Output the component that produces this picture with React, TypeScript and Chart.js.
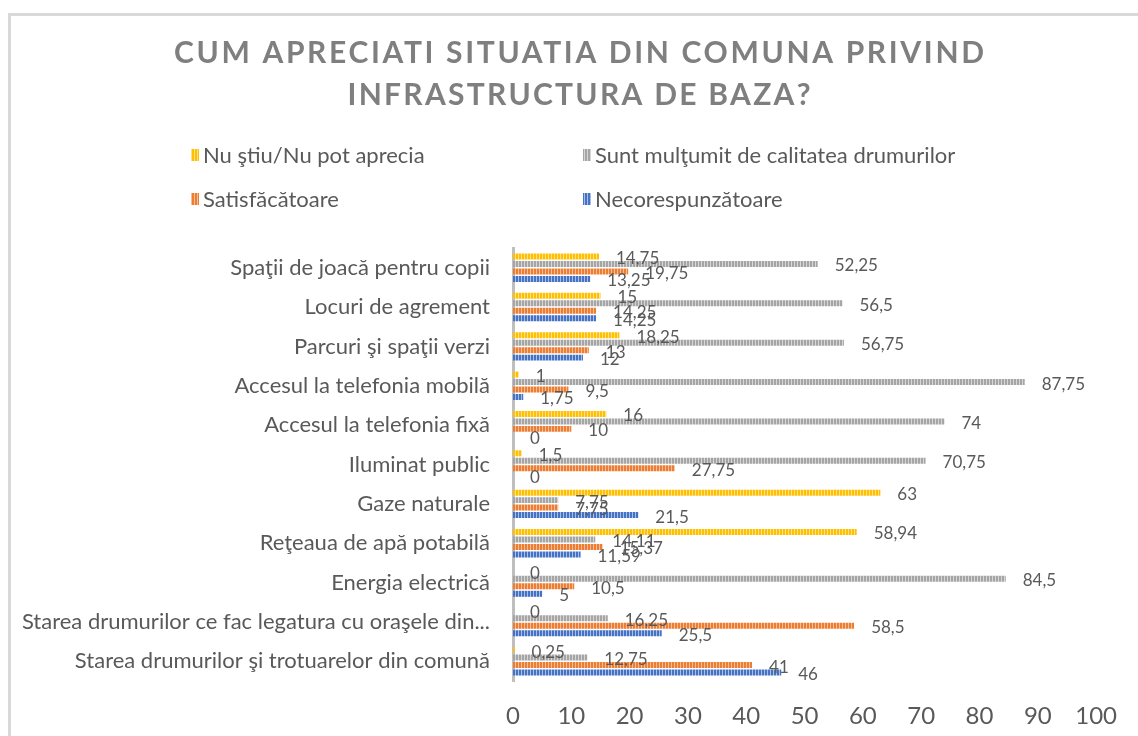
import React, { useEffect, useRef } from 'react';
import { Chart, registerables } from 'chart.js';
Chart.register(...registerables);

const titleLines = ['CUM APRECIATI SITUATIA DIN COMUNA PRIVIND', 'INFRASTRUCTURA DE BAZA?'];

const categories = [
  'Spaţii de joacă pentru copii',
  'Locuri de agrement',
  'Parcuri şi spaţii verzi',
  'Accesul la telefonia mobilă',
  'Accesul la telefonia fixă',
  'Iluminat public',
  'Gaze naturale',
  'Reţeaua de apă potabilă',
  'Energia electrică',
  'Starea drumurilor ce fac legatura cu oraşele din...',
  'Starea drumurilor şi trotuarelor din comună',
];

const seriesNames = [
  'Nu ştiu/Nu pot aprecia',
  'Sunt mulţumit de calitatea drumurilor',
  'Satisfăcătoare',
  'Necorespunzătoare',
];

const nuStiu = [14.75, 15, 18.25, 1, 16, 1.5, 63, 58.94, 0, 0, 0.25];
const multumit = [52.25, 56.5, 56.75, 87.75, 74, 70.75, 7.75, 14.11, 84.5, 16.25, 12.75];
const satisfacatoare = [19.75, 14.25, 13, 9.5, 10, 27.75, 7.75, 15.37, 10.5, 58.5, 41];
const necorespunzatoare = [13.25, 14.25, 12, 1.75, 0, 0, 21.5, 11.59, 5, 25.5, 46];

const xTicks = [0, 10, 20, 30, 40, 50, 60, 70, 80, 90, 100];

const colors = ['#FFC000', '#A5A5A5', '#ED7D31', '#4472C4'];
const lightColors = ['#FFE08A', '#D6D6D6', '#F6BE98', '#A9BFE6'];

const FONT = 'Lato, "Open Sans", sans-serif';

export default function App() {
  const ref = useRef<HTMLCanvasElement>(null);

  useEffect(() => {
    const canvas = ref.current!;
    const ctx = canvas.getContext('2d')!;

    const mkPattern = (color: string, light: string) => {
      const c = document.createElement('canvas');
      c.width = 3;
      c.height = 2;
      const g = c.getContext('2d')!;
      g.fillStyle = color;
      g.fillRect(0, 0, 3, 2);
      g.fillStyle = light;
      g.fillRect(2, 0, 1, 2);
      return ctx.createPattern(c, 'repeat') as CanvasPattern;
    };
    const patterns = colors.map((c, i) => mkPattern(c, lightColors[i]));
    const allData = [nuStiu, multumit, satisfacatoare, necorespunzatoare];

    const valueLabels = {
      id: 'valueLabels',
      afterDatasetsDraw(chart: any) {
        const c = chart.ctx;
        c.save();
        c.font = `17px ${FONT}`;
        c.fillStyle = '#595959';
        c.textBaseline = 'middle';
        c.textAlign = 'left';
        chart.data.datasets.forEach((ds: any, i: number) => {
          const meta = chart.getDatasetMeta(i);
          meta.data.forEach((bar: any, j: number) => {
            const v = ds.data[j];
            const txt = String(v).replace('.', ',');
            c.fillText(txt, bar.x + 17, bar.y + 2);
          });
        });
        c.restore();
      },
    };

    const decor = {
      id: 'decor',
      afterDraw(chart: any) {
        const c = chart.ctx as CanvasRenderingContext2D;
        c.save();
        // Title
        c.font = `bold 30px ${FONT}`;
        c.fillStyle = '#7F7F7F';
        c.textBaseline = 'middle';
        c.textAlign = 'left';
        const targets = [810, 463];
        const ys = [53, 95];
        titleLines.forEach((line, i) => {
          (c as any).letterSpacing = '0px';
          const w = c.measureText(line).width;
          const sp = (targets[i] - w) / (line.length - 1);
          (c as any).letterSpacing = `${sp}px`;
          const total = w + sp * (line.length - 1);
          c.fillText(line, 579 - total / 2, ys[i]);
        });
        (c as any).letterSpacing = '0px';
        // Legend
        const cols = [191, 583];
        const rows = [155, 199];
        c.font = `22px ${FONT}`;
        seriesNames.forEach((name, i) => {
          const x = cols[i % 2];
          const y = rows[Math.floor(i / 2)];
          c.fillStyle = patterns[i];
          c.fillRect(x, y - 6, 8, 12);
          c.fillStyle = '#595959';
          c.fillText(name, x + 12, y + 1);
        });
        c.restore();
      },
    };

    const chart = new Chart(canvas, {
      type: 'bar',
      data: {
        labels: categories,
        datasets: allData.map((d, i) => ({
          label: seriesNames[i],
          data: d,
          backgroundColor: patterns[i],
          borderWidth: 0,
          categoryPercentage: 0.76,
          barPercentage: 0.8,
        })),
      },
      options: {
        indexAxis: 'y',
        responsive: false,
        animation: false,
        events: [],
        layout: { padding: { top: 248, right: 33, left: 0, bottom: 0 } },
        plugins: {
          legend: { display: false },
          title: { display: false },
          tooltip: { enabled: false },
        },
        scales: {
          x: {
            min: 0,
            max: 100,
            afterFit(scale: any) {
              scale.height = 55;
            },
            afterBuildTicks(scale: any) {
              scale.ticks = xTicks.map((v) => ({ value: v }));
            },
            grid: { display: false, drawTicks: false },
            border: { display: false },
            ticks: {
              padding: 21,
              color: '#595959',
              font: { family: FONT, size: 24 },
              maxRotation: 0,
            },
          },
          y: {
            afterFit(scale: any) {
              scale.width = 513;
            },
            grid: { display: false, drawTicks: false },
            border: { display: true, color: '#BFBFBF', width: 3 },
            ticks: {
              padding: 23,
              color: '#595959',
              font: { family: FONT, size: 22 },
              autoSkip: false,
            },
          },
        },
      },
      plugins: [valueLabels, decor],
    } as any);

    return () => chart.destroy();
  }, []);

  return (
    <div
      style={{
        position: 'fixed',
        left: 0,
        top: 0,
        width: 1138,
        height: 736,
        overflow: 'hidden',
        background: '#ffffff',
      }}
    >
      <div
        style={{
          position: 'absolute',
          left: 8,
          top: 13,
          width: 1200,
          height: 800,
          border: '3px solid #D9D9D9',
        }}
      />
      <canvas
        ref={ref}
        width={1138}
        height={736}
        style={{ position: 'absolute', left: 0, top: 0, width: 1138, height: 736 }}
      />
    </div>
  );
}
